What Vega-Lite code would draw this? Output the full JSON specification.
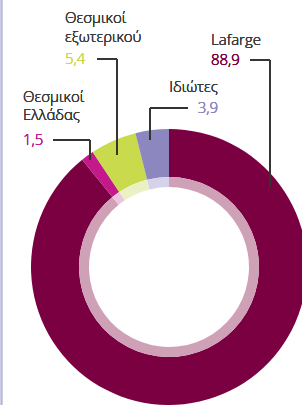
{
  "$schema": "https://vega.github.io/schema/vega-lite/v6.json",
  "width": 302,
  "height": 405,
  "autosize": "none",
  "padding": 0,
  "background": "white",
  "config": {
    "view": {"stroke": null},
    "text": {"font": "Open Sans", "fontSize": 15, "fontWeight": 300, "align": "left", "baseline": "alphabetic"},
    "rule": {"color": "#333333", "strokeWidth": 1.3}
  },
  "data": {
    "values": [
      {"group": "Lafarge", "value": 88.9, "ord": 1},
      {"group": "Θεσμικοί Ελλάδας", "value": 1.5, "ord": 2},
      {"group": "Θεσμικοί εξωτερικού", "value": 5.4, "ord": 3},
      {"group": "Ιδιώτες", "value": 3.9, "ord": 4}
    ]
  },
  "layer": [
    {
      "mark": {"type": "arc", "outerRadius": 138, "innerRadius": 90},
      "encoding": {
        "x": {"datum": 169, "type": "quantitative", "scale": {"domain": [0, 302], "nice": false, "zero": false}, "axis": null},
        "y": {"datum": 267, "type": "quantitative", "scale": {"domain": [0, 405], "nice": false, "zero": false, "reverse": true}, "axis": null},
        "theta": {"field": "value", "type": "quantitative", "stack": true},
        "order": {"field": "ord", "type": "quantitative"},
        "color": {"field": "group", "type": "nominal", "legend": null,
                  "scale": {"domain": ["Lafarge", "Θεσμικοί Ελλάδας", "Θεσμικοί εξωτερικού", "Ιδιώτες"],
                            "range": ["#7b0041", "#c4198b", "#c9da4c", "#8d87bf"]}}
      }
    },
    {
      "mark": {"type": "arc", "outerRadius": 90, "innerRadius": 80},
      "encoding": {
        "x": {"datum": 169, "type": "quantitative"},
        "y": {"datum": 267, "type": "quantitative"},
        "theta": {"field": "value", "type": "quantitative", "stack": true},
        "order": {"field": "ord", "type": "quantitative"},
        "color": {"field": "group", "type": "nominal", "legend": null,
                  "scale": {"domain": ["Lafarge", "Θεσμικοί Ελλάδας", "Θεσμικοί εξωτερικού", "Ιδιώτες"],
                            "range": ["#cfa1b6", "#edc4df", "#ebf1c4", "#d5d2e9"]}}
      }
    },
    {"mark": {"type": "rule", "color": "#b9b7d9", "strokeWidth": 1.5}, "encoding": {"x": {"datum": 1.5, "type": "quantitative"}, "y": {"datum": 0, "type": "quantitative"}, "y2": {"datum": 405}}},
    {"mark": {"type": "rule"}, "encoding": {"x": {"datum": 250, "type": "quantitative"}, "x2": {"datum": 270}, "y": {"datum": 60, "type": "quantitative"}}},
    {"mark": {"type": "rule"}, "encoding": {"x": {"datum": 270, "type": "quantitative"}, "y": {"datum": 60, "type": "quantitative"}, "y2": {"datum": 187}}},
    {"mark": {"type": "rule"}, "encoding": {"x": {"datum": 150, "type": "quantitative"}, "x2": {"datum": 188}, "y": {"datum": 108, "type": "quantitative"}}},
    {"mark": {"type": "rule"}, "encoding": {"x": {"datum": 150, "type": "quantitative"}, "y": {"datum": 108, "type": "quantitative"}, "y2": {"datum": 140}}},
    {"mark": {"type": "rule"}, "encoding": {"x": {"datum": 97, "type": "quantitative"}, "x2": {"datum": 117}, "y": {"datum": 59, "type": "quantitative"}}},
    {"mark": {"type": "rule"}, "encoding": {"x": {"datum": 117, "type": "quantitative"}, "y": {"datum": 59, "type": "quantitative"}, "y2": {"datum": 155}}},
    {"mark": {"type": "rule"}, "encoding": {"x": {"datum": 53, "type": "quantitative"}, "x2": {"datum": 90}, "y": {"datum": 140, "type": "quantitative"}}},
    {"mark": {"type": "rule"}, "encoding": {"x": {"datum": 90, "type": "quantitative"}, "y": {"datum": 140, "type": "quantitative"}, "y2": {"datum": 160}}},
    {"mark": {"type": "text", "text": "Lafarge", "color": "#3a3a3a"},
     "encoding": {"x": {"datum": 211, "type": "quantitative"}, "y": {"datum": 45, "type": "quantitative"}}},
    {"mark": {"type": "text", "text": "88,9", "color": "#7b0041"},
     "encoding": {"x": {"datum": 211, "type": "quantitative"}, "y": {"datum": 65, "type": "quantitative"}}},
    {"mark": {"type": "text", "text": "Ιδιώτες", "color": "#3a3a3a", "align": "right"},
     "encoding": {"x": {"datum": 218, "type": "quantitative"}, "y": {"datum": 92, "type": "quantitative"}}},
    {"mark": {"type": "text", "text": "3,9", "color": "#8d87bf", "align": "right"},
     "encoding": {"x": {"datum": 218, "type": "quantitative"}, "y": {"datum": 113, "type": "quantitative"}}},
    {"mark": {"type": "text", "text": "Θεσμικοί", "color": "#3a3a3a"},
     "encoding": {"x": {"datum": 65, "type": "quantitative"}, "y": {"datum": 23, "type": "quantitative"}}},
    {"mark": {"type": "text", "text": "εξωτερικού", "color": "#3a3a3a"},
     "encoding": {"x": {"datum": 65, "type": "quantitative"}, "y": {"datum": 42, "type": "quantitative"}}},
    {"mark": {"type": "text", "text": "5,4", "color": "#c9da4c"},
     "encoding": {"x": {"datum": 65, "type": "quantitative"}, "y": {"datum": 64, "type": "quantitative"}}},
    {"mark": {"type": "text", "text": "Θεσμικοί", "color": "#3a3a3a"},
     "encoding": {"x": {"datum": 23, "type": "quantitative"}, "y": {"datum": 102, "type": "quantitative"}}},
    {"mark": {"type": "text", "text": "Ελλάδας", "color": "#3a3a3a"},
     "encoding": {"x": {"datum": 23, "type": "quantitative"}, "y": {"datum": 120, "type": "quantitative"}}},
    {"mark": {"type": "text", "text": "1,5", "color": "#c4198b"},
     "encoding": {"x": {"datum": 23, "type": "quantitative"}, "y": {"datum": 145, "type": "quantitative"}}}
  ],
  "resolve": {"scale": {"color": "independent"}}
}
